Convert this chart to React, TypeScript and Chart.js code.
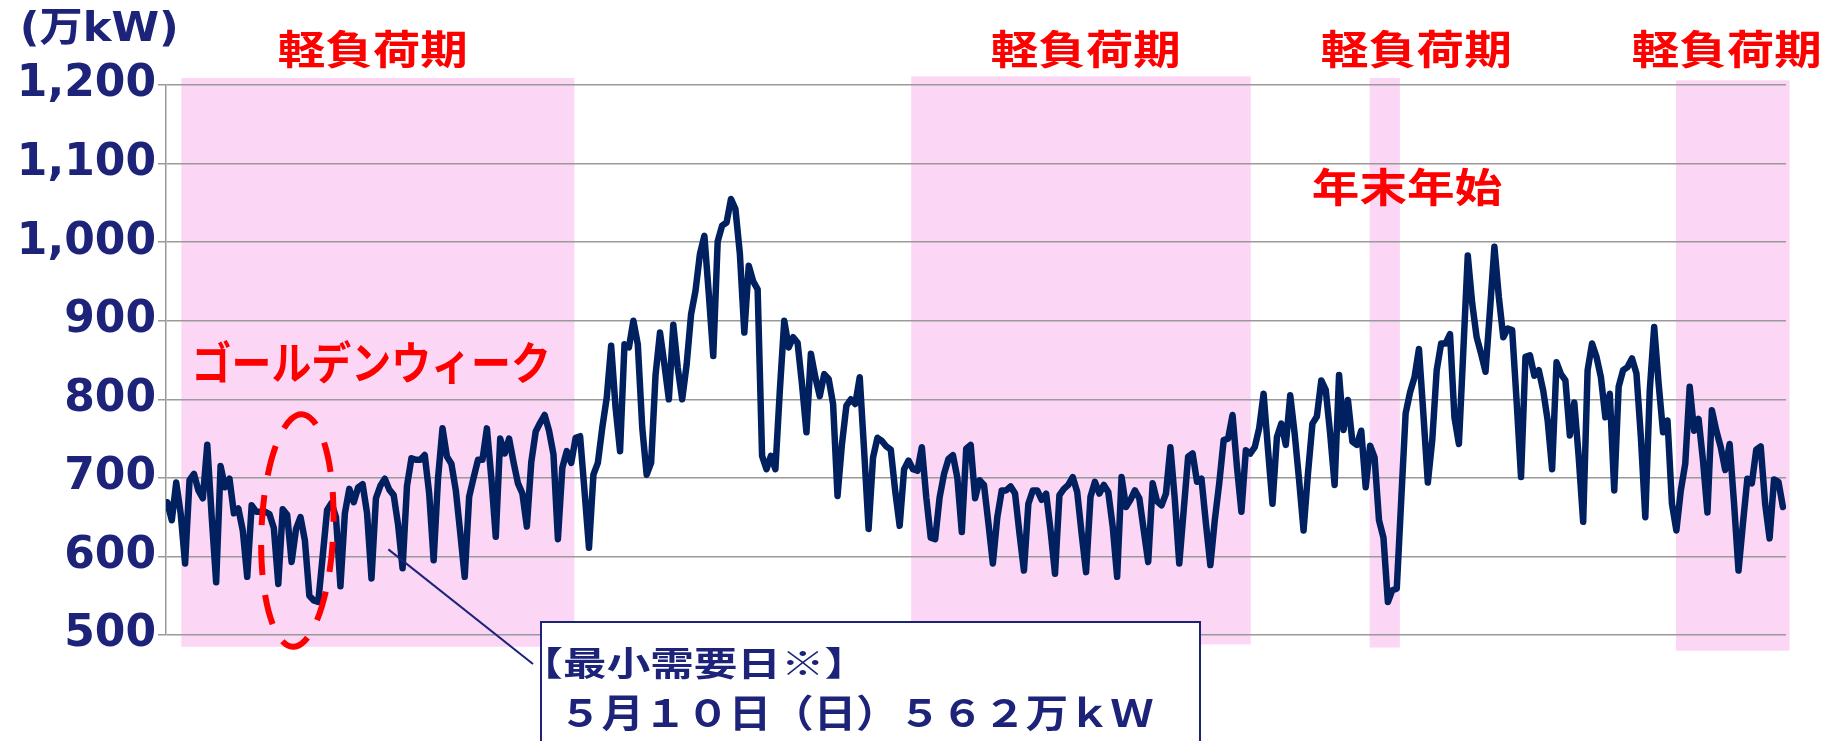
import { useEffect, useRef } from 'react';
import { Chart, registerables } from 'chart.js';

Chart.register(...registerables);

// Daily peak demand (万kW), fiscal year starting 1 April, one array per month
const apr = [669, 646, 694, 655, 591, 697, 705, 684, 674, 742, 650, 567, 715, 688, 699, 655, 661, 633, 574, 665, 657, 657, 657, 654, 636, 565, 660, 653, 593, 635];
const may = [650, 620, 550, 544, 542, 600, 659, 668, 650, 562, 655, 686, 669, 688, 692, 655, 572, 674, 690, 699, 685, 678, 640, 585, 690, 725, 723, 723, 729, 680, 595];
const jun = [700, 763, 727, 718, 684, 630, 574, 676, 700, 723, 723, 763, 700, 625, 750, 731, 750, 720, 693, 680, 638, 720, 759, 770, 780, 760, 730, 622, 713, 734];
const jul = [719, 751, 753, 683, 611, 704, 719, 764, 802, 868, 789, 734, 870, 866, 900, 870, 764, 704, 719, 831, 885, 844, 800, 895, 840, 800, 844, 908, 938, 985, 1008];
const aug = [934, 855, 1001, 1021, 1025, 1055, 1042, 985, 885, 970, 950, 940, 728, 711, 728, 711, 811, 900, 866, 879, 872, 819, 758, 858, 828, 804, 832, 826, 794, 677, 743];
const sep = [792, 800, 794, 828, 734, 635, 726, 751, 747, 740, 736, 683, 639, 711, 722, 711, 709, 739, 675, 624, 622, 675, 705, 724, 729, 700, 631, 737, 742, 674];
const oct = [697, 691, 642, 591, 650, 684, 684, 689, 680, 629, 582, 667, 684, 684, 672, 680, 633, 578, 678, 686, 691, 701, 682, 629, 580, 676, 695, 680, 691, 682, 638];
const nov = [574, 701, 663, 672, 684, 674, 633, 593, 693, 670, 665, 680, 739, 672, 591, 659, 727, 731, 695, 699, 642, 589, 646, 693, 748, 750, 780, 714, 657, 735];
const dec = [731, 739, 763, 807, 735, 667, 752, 769, 742, 805, 756, 697, 633, 706, 769, 778, 824, 812, 756, 691, 831, 761, 799, 746, 742, 760, 688, 741, 726, 646, 624];
const jan = [542, 557, 559, 671, 782, 809, 828, 864, 781, 694, 748, 837, 871, 871, 883, 777, 743, 862, 983, 922, 879, 858, 835, 913, 994, 930, 879, 890, 888, 798, 701];
const feb = [854, 856, 830, 837, 811, 773, 711, 847, 832, 824, 754, 796, 726, 644, 837, 871, 854, 828, 777, 807, 684, 816, 837, 841, 852, 833, 752, 650];
const mar = [811, 892, 820, 758, 773, 667, 633, 684, 718, 816, 760, 775, 722, 656, 786, 760, 739, 710, 743, 667, 582, 642, 699, 693, 736, 740, 667, 623, 698, 695, 663];

const demand = [apr, may, jun, jul, aug, sep, oct, nov, dec, jan, feb, mar].flat();

// Y axis range and tick step
const yMin = 500;
const yMax = 1200;
const yStep = 100;

// Light-load periods, in day index from 1 April (start, end) and their value span
const bandStart = [3.15, 167.6, 270.9, 339.9];
const bandEnd = [91.7, 244.1, 277.7, 365.5];
const bandTop = [1209, 1211, 1209, 1206];
const bandBottom = [485, 488, 484, 480];

// Text
const unitText = '(万kW)';
const lightLoadText = '軽負荷期';
const newYearText = '年末年始';
const goldenWeekText = 'ゴールデンウィーク';
const minDayTitle = '【最小需要日※】';
const minDayDetail = '５月１０日（日）５６２万ｋＷ';

const NAVY_TEXT = '#1c2379';
const LINE_COLOR = '#002060';
const RED = '#ff0000';
const PINK = '#fbd6f5';
const GRID = '#9a9a9a';
const CJK = '"Noto Sans CJK JP", "Noto Sans CJK SC", sans-serif';
const LATIN = '"DejaVu Sans", "Noto Sans CJK JP", sans-serif';

// Draws text so that its ink fills the given box (size from height, horizontal stretch from width)
function fitText(
  ctx: CanvasRenderingContext2D,
  text: string,
  family: string,
  left: number,
  right: number,
  top: number,
  bottom: number,
  color: string,
) {
  ctx.save();
  ctx.textAlign = 'left';
  ctx.textBaseline = 'alphabetic';
  ctx.font = `bold 100px ${family}`;
  let m = ctx.measureText(text);
  const h100 = m.actualBoundingBoxAscent + m.actualBoundingBoxDescent;
  const size = ((bottom - top) / h100) * 100;
  ctx.font = `bold ${size}px ${family}`;
  m = ctx.measureText(text);
  const w0 = m.actualBoundingBoxLeft + m.actualBoundingBoxRight;
  const sx = (right - left) / w0;
  ctx.translate(left, top + m.actualBoundingBoxAscent);
  ctx.scale(sx, 1);
  ctx.fillStyle = color;
  ctx.fillText(text, m.actualBoundingBoxLeft, 0);
  ctx.restore();
}

const bandsPlugin = {
  id: 'lightLoadBands',
  beforeDraw(chart: any) {
    const { ctx, scales } = chart;
    const xs = scales.x;
    const ys = scales.y;
    ctx.save();
    ctx.fillStyle = '#ffffff';
    ctx.fillRect(0, 0, chart.width, chart.height);
    ctx.fillStyle = PINK;
    for (let i = 0; i < bandStart.length; i++) {
      const x1 = xs.getPixelForValue(bandStart[i]);
      const x2 = xs.getPixelForValue(bandEnd[i]);
      const y1 = ys.getPixelForValue(bandTop[i]);
      const y2 = ys.getPixelForValue(bandBottom[i]);
      ctx.fillRect(x1, y1, x2 - x1, y2 - y1);
    }
    ctx.restore();
  },
};

const notesPlugin = {
  id: 'notes',
  afterDraw(chart: any) {
    const { ctx, scales } = chart;
    const xs = scales.x;
    const ys = scales.y;

    // unit caption
    fitText(ctx, unitText, LATIN, 23, 176, 9, 47, NAVY_TEXT);

    // period captions
    fitText(ctx, lightLoadText, CJK, 279, 466, 29, 67, RED);
    fitText(ctx, lightLoadText, CJK, 992, 1179, 29, 67, RED);
    fitText(ctx, lightLoadText, CJK, 1322, 1510, 29, 67, RED);
    fitText(ctx, lightLoadText, CJK, 1633, 1820, 29, 67, RED);
    fitText(ctx, newYearText, CJK, 1313, 1502, 167, 206, RED);
    fitText(ctx, goldenWeekText, CJK, 196, 547, 340, 384, RED);

    // dashed ring around Golden Week
    const cx = xs.getPixelForValue(29.3);
    const cy = ys.getPixelForValue(633);
    const rx = xs.getPixelForValue(29.3 + 8.1) - cx;
    const ry = cy - ys.getPixelForValue(633 + 148);
    ctx.save();
    ctx.strokeStyle = RED;
    ctx.lineWidth = 6;
    ctx.setLineDash([30, 20]);
    ctx.beginPath();
    ctx.ellipse(cx, cy, rx, ry, 0.04, -Math.PI / 2 - 0.3, Math.PI * 1.5 - 0.3);
    ctx.stroke();
    ctx.restore();

    // leader line to the minimum-demand note
    ctx.save();
    ctx.strokeStyle = NAVY_TEXT;
    ctx.lineWidth = 2;
    ctx.beginPath();
    ctx.moveTo(xs.getPixelForValue(49.8), ys.getPixelForValue(609));
    ctx.lineTo(533, 664);
    ctx.stroke();

    // note box
    ctx.fillStyle = '#ffffff';
    ctx.fillRect(541, 622, 659, 140);
    ctx.strokeStyle = NAVY_TEXT;
    ctx.lineWidth = 2;
    ctx.strokeRect(541, 622, 659, 140);
    ctx.restore();

    fitText(ctx, minDayTitle, CJK, 548, 840, 647, 679, NAVY_TEXT);
    fitText(ctx, minDayDetail, CJK, 568, 1153, 694, 731, NAVY_TEXT);
  },
};

export default function App() {
  const canvasRef = useRef<HTMLCanvasElement | null>(null);

  useEffect(() => {
    document.body.style.margin = '0';
    const canvas = canvasRef.current;
    if (!canvas) return;
    const points = demand.map((v, i) => ({ x: i, y: v }));
    const chart = new Chart(canvas, {
      type: 'line',
      data: {
        datasets: [
          {
            data: points,
            borderColor: LINE_COLOR,
            borderWidth: 6.5,
            pointRadius: 0,
            tension: 0,
            fill: false,
            borderJoinStyle: 'round',
            borderCapStyle: 'round',
          },
        ],
      },
      options: {
        animation: false,
        responsive: false,
        devicePixelRatio: 1,
        layout: { padding: { left: 0, right: 49, top: 85, bottom: 106 } },
        plugins: { legend: { display: false }, tooltip: { enabled: false } },
        scales: {
          x: { type: 'linear', min: -0.3, max: 364.7, display: false },
          y: {
            min: yMin,
            max: yMax,
            ticks: {
              stepSize: yStep,
              color: NAVY_TEXT,
              padding: 2,
              font: { family: 'DejaVu Sans', weight: 'bold', size: 44 },
              callback: (v: any) => Number(v).toLocaleString('en-US'),
            },
            grid: { color: GRID, lineWidth: 1.5, tickLength: 8, drawTicks: true },
            border: { display: true, color: GRID, width: 1.5 },
            afterFit: (scale: any) => {
              scale.width = 166;
            },
          },
        },
      },
      plugins: [bandsPlugin, notesPlugin],
    } as any);
    return () => chart.destroy();
  }, []);

  return (
    <div style={{ width: 1835, height: 741, position: 'relative' }}>
      <canvas ref={canvasRef} width={1835} height={741} style={{ display: 'block' }} />
    </div>
  );
}
